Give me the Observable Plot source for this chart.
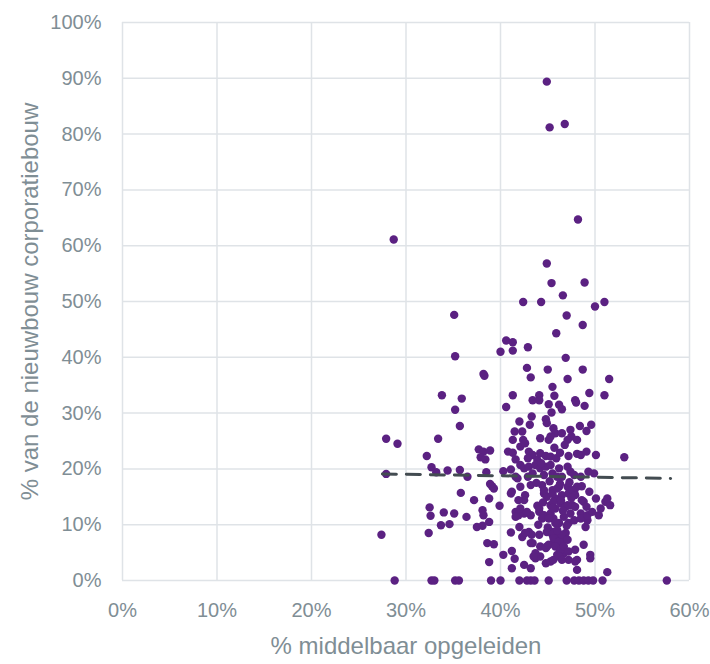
<!DOCTYPE html>
<html><head><meta charset="utf-8">
<script src="https://cdn.jsdelivr.net/npm/d3@7"></script>
<script src="https://cdn.jsdelivr.net/npm/@observablehq/plot@0.6"></script>
<style>body{margin:0;background:#fff}</style>
</head><body><div id="chart"></div>
<script>
// % middelbaar opgeleiden (x) and % van de nieuwbouw corporatiebouw (y), per gemeente
const middelbaar = [
44.9,45.2,46.8,48.2,28.7,44.9,45.4,48.9,46.6,42.4,44.3,50.0,51.0,35.1,47.0,48.7,45.9,40.6,41.3,40.0,
41.3,42.9,35.2,46.9,42.8,45.0,48.7,38.2,38.3,43.2,47.1,51.5,45.5,33.8,35.9,41.3,44.1,43.4,45.7,49.4,
51.0,47.9,44.1,45.1,46.2,46.5,45.4,48.0,48.9,40.6,35.2,35.7,27.9,29.1,33.4,32.2,32.7,33.2,34.4,27.9,
35.7,35.8,32.5,32.6,34.0,35.1,33.7,34.6,27.4,32.4,
41.5,41.3,42.0,37.7,38.2,38.9,37.9,38.4,40.8,41.3,41.6,38.5,40.3,41.1,41.8,38.9,
43.3,43.1,42.3,42.4,44.8,44.9,45.6,45.8,46.5,47.4,47.5,48.4,49.1,49.6,44.2,45.1,45.3,47.1,48.1,42.1,
42.6,43.0,43.4,42.9,43.9,44.2,44.8,45.3,45.9,46.3,47.2,48.1,48.5,49.1,50.1,53.1,42.1,42.5,43.0,43.7,
44.2,44.8,45.3,46.2,47.1,47.4,41.6,42.9,43.4,44.6,45.5,46.0,46.5,47.8,48.5,49.9,39.1,39.3,36.5,37.2,
38.8,39.9,41.2,41.1,42.1,42.6,42.5,43.2,43.9,44.4,44.6,44.9,45.5,45.8,46.2,46.5,47.1,47.2,47.8,48.1,
48.6,45.3,45.8,46.4,46.9,47.6,47.9,48.8,49.1,50.1,51.1,51.6,36.4,38.1,38.2,38.8,37.5,38.1,41.6,41.9,
42.5,43.2,44.1,44.6,45.3,45.6,46.2,46.7,47.2,47.8,48.5,49.2,49.0,50.4,42.0,41.1,42.3,43.0,43.3,44.1,
44.9,45.5,46.2,46.9,46.5,45.6,44.9,38.6,39.3,43.4,46.2,46.0,46.7,47.2,48.1,47.9,48.8,49.5,49.5,40.3,
41.2,41.2,38.8,42.5,43.2,43.7,44.2,44.8,45.3,48.1,51.3,41.5,41.9,41.6,49.3,
44.6,45.5,45.6,46.0,46.4,47.1,47.6,47.9,48.6,49.4,50.6,51.3,
42.1,42.8,44.1,44.4,45.1,45.8,47.4,48.5,49.2,49.7,
42.6,45.5,45.6,46.2,46.5,47.1,
43.2,44.2,44.8,45.1,45.8,46.4,46.7,47.2,
43.7,43.5,45.6,46.2,46.5,47.9,
44.0,45.0,46.0,47.0,44.5,45.5,46.6,47.5,43.8,45.2,46.3,47.3,44.3,45.7,46.8,
28.8,32.7,33.0,35.2,35.6,39.0,40.0,42.0,42.8,43.2,43.6,45.1,47.0,47.8,48.3,48.8,49.3,49.8,50.8,57.6
];
const corporatie = [
89.4,81.2,81.8,64.7,61.1,56.8,53.3,53.4,51.1,49.9,49.9,49.1,49.9,47.6,47.5,45.8,44.3,43.0,42.7,41.0,
41.2,41.8,40.2,39.9,38.1,37.8,37.8,37.0,36.7,36.4,36.1,36.1,34.7,33.2,32.6,33.2,33.2,32.3,33.1,33.6,
33.2,32.3,32.3,31.6,31.5,30.7,30.1,31.9,31.3,31.1,30.6,27.7,25.4,24.5,25.4,22.3,20.3,19.4,19.7,19.1,
19.8,15.7,13.1,11.6,12.2,12.0,9.9,10.1,8.2,8.5,
26.7,25.2,28.5,23.5,23.1,23.3,22.1,21.7,23.1,22.9,21.7,19.4,19.6,19.9,18.3,17.3,
29.4,27.9,26.7,25.2,28.9,28.2,27.3,26.4,26.4,27.0,25.8,27.7,26.8,27.9,25.5,25.2,25.8,25.2,25.2,24.0,
24.6,23.1,22.5,21.9,21.6,22.8,22.3,22.2,21.9,22.9,22.3,22.7,22.5,23.1,22.5,22.1,20.7,20.1,20.4,20.7,
20.1,20.4,20.7,20.1,20.4,19.5,18.6,18.6,19.2,18.9,19.2,18.6,18.6,18.9,18.6,19.2,16.9,16.5,18.6,14.4,
14.7,13.4,15.9,15.6,16.8,15.3,14.4,17.1,13.4,17.1,15.6,15.0,16.2,14.7,16.8,15.3,16.8,15.6,15.9,16.8,
16.9,13.5,12.9,13.8,13.2,13.5,13.2,14.1,13.2,14.7,14.1,13.5,11.4,12.6,11.7,10.5,9.6,9.8,12.3,11.7,
12.0,11.7,12.3,11.7,12.0,11.1,10.3,11.4,10.3,10.8,12.0,10.8,9.6,11.7,9.6,8.6,7.8,8.7,8.2,8.2,
8.7,8.2,7.8,8.5,7.0,6.7,6.1,6.7,6.5,6.7,5.8,4.6,4.9,3.7,3.7,5.5,6.4,4.6,4.0,4.6,
5.3,2.2,3.3,2.8,2.2,4.0,4.3,3.1,3.4,1.9,1.5,3.9,14.4,11.4,19.5,
16.2,15.6,14.1,16.5,14.4,13.5,16.2,15.3,14.4,15.9,12.9,14.7,
12.9,12.3,12.9,11.1,11.1,10.3,12.0,11.1,11.7,12.3,
8.5,8.7,7.6,7.0,8.2,7.3,
6.7,6.1,5.8,6.4,6.1,5.5,6.1,5.2,
4.9,4.3,3.7,4.3,3.7,3.4,
10.0,9.5,9.0,9.8,14.0,13.0,12.5,14.8,17.5,17.8,17.3,17.6,21.0,23.8,24.3,
0,0,0,0,0,0,0,0,0,0,0,0,0,0,0,0,0,0,0,0
];
// trendline end points
const trendX = [27.5, 58];
const trendY = [19.1, 18.3];
const xTicks = [0, 10, 20, 30, 40, 50, 60];
const yTicks = [0, 10, 20, 30, 40, 50, 60, 70, 80, 90, 100];
const xTitle = "% middelbaar opgeleiden";
const yTitle = "% van de nieuwbouw corporatiebouw";

const points = middelbaar.map((x, i) => ({x, y: corporatie[i]}));
const trend = trendX.map((x, i) => ({x, y: trendY[i]}));
const font = "'Liberation Sans', Arial, sans-serif";
const gray = "#7f8e95";

const chart = Plot.plot({
  width: 710,
  height: 664,
  marginLeft: 122,
  marginRight: 21,
  marginTop: 22,
  marginBottom: 84,
  style: {fontFamily: font, background: "#ffffff", overflow: "visible"},
  x: {domain: [0, 60]},
  y: {domain: [0, 100]},
  marks: [
    Plot.gridX(xTicks, {stroke: "#dfe3e7", strokeOpacity: 1, strokeWidth: 1.5}),
    Plot.gridY(yTicks, {stroke: "#dfe3e7", strokeOpacity: 1, strokeWidth: 1.5}),
    Plot.axisX(xTicks, {tickSize: 0, tickPadding: 22, tickFormat: d => d + "%", fontSize: 20, fill: gray, label: null}),
    Plot.axisY(yTicks, {tickSize: 0, tickPadding: 21, tickFormat: d => d + "%", fontSize: 20, fill: gray, label: null}),
    Plot.dot(points, {x: "x", y: "y", r: 4.2, fill: "#5b2182", stroke: "none"}),
    Plot.line(trend, {x: "x", y: "y", stroke: "#434c51", strokeWidth: 3, strokeDasharray: "14,10"}),
    Plot.text([xTitle], {frameAnchor: "bottom", dy: 66, text: d => d, fontSize: 24, fill: gray, lineAnchor: "middle", textAnchor: "middle"}),
    Plot.text([yTitle], {frameAnchor: "left", dx: -92, rotate: -90, text: d => d, fontSize: 24, fill: gray, lineAnchor: "middle", textAnchor: "middle"})
  ]
});
document.getElementById("chart").appendChild(chart);
</script>
</body></html>
